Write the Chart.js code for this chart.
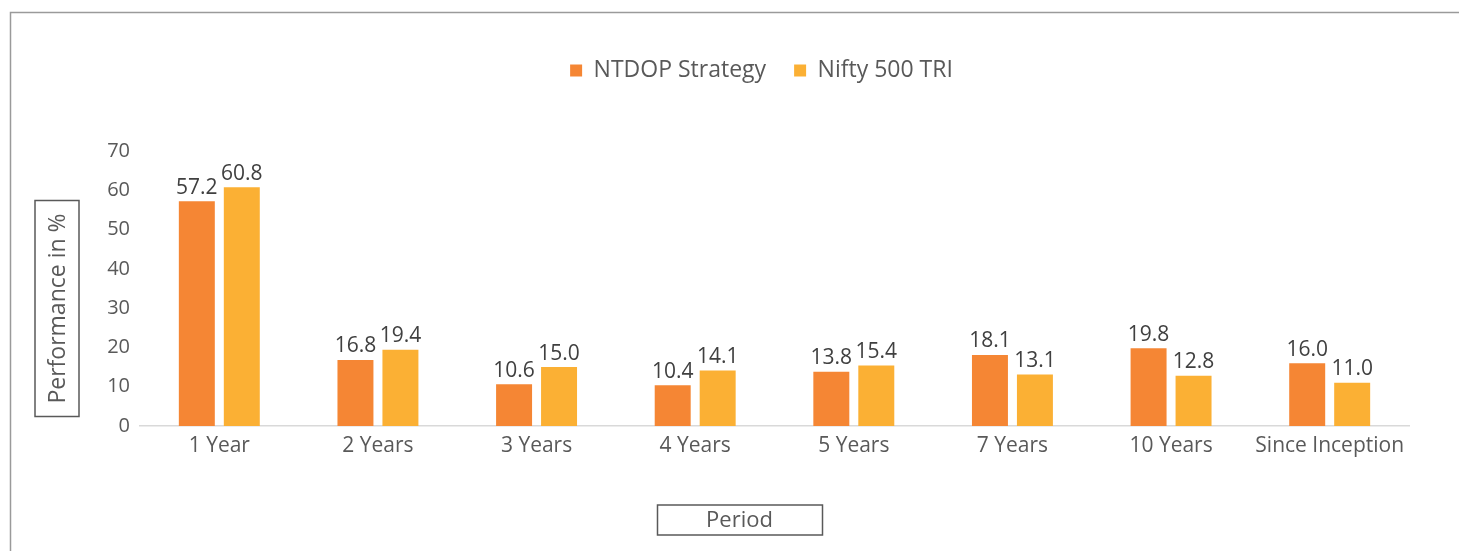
<!DOCTYPE html>
<html>
<head>
<meta charset="utf-8">
<script src="https://cdn.jsdelivr.net/npm/chart.js@4/dist/chart.umd.min.js"></script>
<style>
html,body{margin:0;padding:0;background:#fff;}
#wrap{width:1459px;height:551px;position:relative;}
</style>
</head>
<body>
<div id="wrap"><canvas id="c" width="1459" height="551"></canvas></div>
<script>
const categories = ["1 Year","2 Years","3 Years","4 Years","5 Years","7 Years","10 Years","Since Inception"];
const ntdop = [57.2,16.8,10.6,10.4,13.8,18.1,19.8,16.0];
const nifty = [60.8,19.4,15.0,14.1,15.4,13.1,12.8,11.0];
const seriesNames = ["NTDOP Strategy","Nifty 500 TRI"];
const yTitle = "Performance in %";
const xTitle = "Period";

const FONT = "'Open Sans', sans-serif";
const TXT = "#595959";

const framePlugin = {
  id: 'frame',
  beforeLayout(chart){
    const l = chart.legend;
    if (l && !l._patched){
      const f = l.fit;
      l.fit = function(){ f.call(this); this.height = 120; };
      l._patched = true;
    }
  },
  afterLayout(chart){
    const l = chart.legend;
    if (l){ l.left += 12; l.right += 12; }
  },
  beforeDraw(chart){
    const ctx = chart.ctx;
    ctx.save();
    ctx.strokeStyle = "#9a9a9a";
    ctx.lineWidth = 1.5;
    ctx.strokeRect(10.5, 12.5, 1600, 700);
    ctx.restore();
  },
  afterDatasetsDraw(chart){
    const ctx = chart.ctx;
    ctx.save();
    ctx.font = "21px " + FONT;
    ctx.fillStyle = "#404040";
    ctx.textAlign = "center";
    ctx.textBaseline = "bottom";
    chart.data.datasets.forEach((ds, i) => {
      const meta = chart.getDatasetMeta(i);
      meta.data.forEach((el, j) => {
        ctx.fillText(ds.data[j].toFixed(1), el.x, el.y - 3);
      });
    });
    ctx.restore();
  },
  afterDraw(chart){
    const ctx = chart.ctx;
    const a = chart.chartArea;
    ctx.save();
    ctx.strokeStyle = "#595959";
    ctx.lineWidth = 1.5;
    ctx.fillStyle = TXT;
    // y title box
    const ycx = a.left - 83, ycy = (a.top + a.bottom)/2 + 20;
    ctx.strokeRect(ycx - 22, ycy - 108, 44, 216);
    ctx.save();
    ctx.translate(ycx, ycy);
    ctx.rotate(-Math.PI/2);
    ctx.font = "23px " + FONT;
    ctx.textAlign = "center";
    ctx.textBaseline = "middle";
    ctx.fillText(yTitle, 0, 1);
    ctx.restore();
    // x title box
    const xcx = (a.left + a.right)/2 - 35, xcy = a.bottom + 94;
    ctx.strokeRect(xcx - 82, xcy - 15, 165, 30);
    ctx.font = "22px " + FONT;
    ctx.textAlign = "center";
    ctx.textBaseline = "middle";
    ctx.fillText(xTitle, xcx, xcy + 1);
    ctx.restore();
  }
};

new Chart(document.getElementById('c'), {
  type: 'bar',
  data: {
    labels: categories,
    datasets: [
      {label: seriesNames[0], data: ntdop, backgroundColor: "#F58634", borderWidth: 0},
      {label: seriesNames[1], data: nifty, backgroundColor: "#FBB034", borderWidth: 0}
    ]
  },
  options: {
    responsive: false,
    animation: false,
    devicePixelRatio: 1,
    categoryPercentage: 0.567,
    barPercentage: 0.8,
    layout: {padding: {top: 31, left: 90, right: 50, bottom: 85}},
    plugins: {
      legend: {
        position: 'top',
        labels: {
          boxWidth: 12, boxHeight: 12, padding: 28,
          color: TXT, font: {family: FONT, size: 23}
        }
      },
      tooltip: {enabled: false}
    },
    scales: {
      x: {
        grid: {display: false, drawTicks: false},
        border: {display: true, color: "#d9d9d9", width: 1.5},
        ticks: {color: TXT, font: {family: FONT, size: 21}, padding: 7, maxRotation: 0},
        afterFit(s){ s.height = 40; }
      },
      y: {
        min: 0, max: 70,
        grid: {display: false, drawTicks: false},
        border: {display: false},
        ticks: {stepSize: 10, color: TXT, font: {family: FONT, size: 20}, padding: 10},
        afterFit(s){ s.width = 50; }
      }
    }
  },
  plugins: [framePlugin]
});
</script>
</body>
</html>
